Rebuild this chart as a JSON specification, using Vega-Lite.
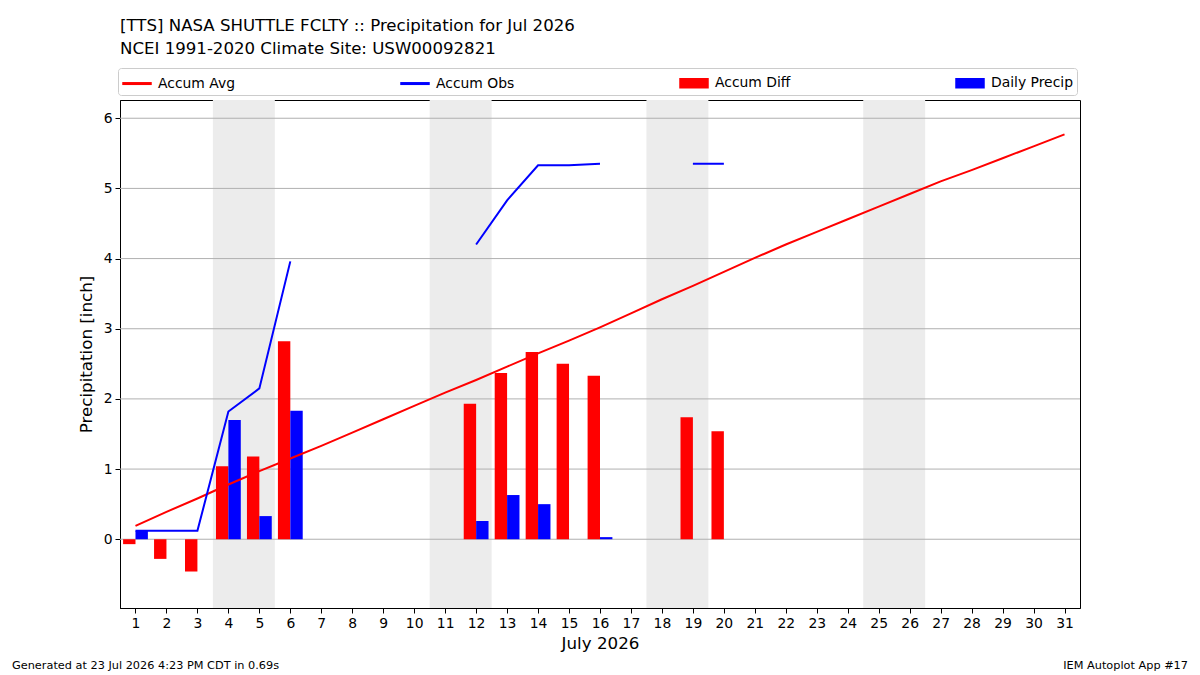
{
  "$schema": "https://vega.github.io/schema/vega-lite/v6.json",
  "width": 960,
  "height": 508,
  "autosize": "none",
  "padding": {"left": 120, "top": 100, "right": 120, "bottom": 67},
  "background": "white",
  "title": {
    "text": ["[TTS] NASA SHUTTLE FCLTY :: Precipitation for Jul 2026", "NCEI 1991-2020 Climate Site: USW00092821"],
    "anchor": "start",
    "frame": "group",
    "font": "DejaVu Sans",
    "fontSize": 16.6,
    "fontWeight": "normal",
    "color": "black",
    "lineHeight": 23,
    "offset": 10
  },
  "datasets": {
    "weekends": [
      {"start": 3.5, "end": 5.5},
      {"start": 10.5, "end": 12.5},
      {"start": 17.5, "end": 19.5},
      {"start": 24.5, "end": 26.5}
    ],
    "grid": [{"v": 0}, {"v": 1}, {"v": 2}, {"v": 3}, {"v": 4}, {"v": 5}, {"v": 6}],
    "daily": [
      {"day": 1, "avg": 0.19, "obs": 0.12, "diff": -0.07, "precip": 0.12},
      {"day": 2, "avg": 0.39, "obs": 0.12, "diff": -0.28, "precip": 0.0},
      {"day": 3, "avg": 0.58, "obs": 0.12, "diff": -0.46, "precip": 0.0},
      {"day": 4, "avg": 0.78, "obs": 1.82, "diff": 1.04, "precip": 1.70},
      {"day": 5, "avg": 0.97, "obs": 2.15, "diff": 1.18, "precip": 0.33},
      {"day": 6, "avg": 1.15, "obs": 3.96, "diff": 2.82, "precip": 1.83},
      {"day": 7, "avg": 1.33, "obs": null, "diff": null, "precip": null},
      {"day": 8, "avg": 1.52, "obs": null, "diff": null, "precip": null},
      {"day": 9, "avg": 1.71, "obs": null, "diff": null, "precip": null},
      {"day": 10, "avg": 1.90, "obs": null, "diff": null, "precip": null},
      {"day": 11, "avg": 2.09, "obs": null, "diff": null, "precip": null},
      {"day": 12, "avg": 2.27, "obs": 4.20, "diff": 1.93, "precip": 0.26},
      {"day": 13, "avg": 2.46, "obs": 4.83, "diff": 2.37, "precip": 0.63},
      {"day": 14, "avg": 2.65, "obs": 5.33, "diff": 2.67, "precip": 0.50},
      {"day": 15, "avg": 2.83, "obs": 5.33, "diff": 2.50, "precip": 0.0},
      {"day": 16, "avg": 3.02, "obs": 5.35, "diff": 2.33, "precip": 0.03},
      {"day": 17, "avg": 3.22, "obs": null, "diff": null, "precip": null},
      {"day": 18, "avg": 3.42, "obs": null, "diff": null, "precip": null},
      {"day": 19, "avg": 3.61, "obs": 5.35, "diff": 1.74, "precip": null},
      {"day": 20, "avg": 3.81, "obs": 5.35, "diff": 1.54, "precip": null},
      {"day": 21, "avg": 4.01, "obs": null, "diff": null, "precip": null},
      {"day": 22, "avg": 4.20, "obs": null, "diff": null, "precip": null},
      {"day": 23, "avg": 4.38, "obs": null, "diff": null, "precip": null},
      {"day": 24, "avg": 4.56, "obs": null, "diff": null, "precip": null},
      {"day": 25, "avg": 4.74, "obs": null, "diff": null, "precip": null},
      {"day": 26, "avg": 4.92, "obs": null, "diff": null, "precip": null},
      {"day": 27, "avg": 5.10, "obs": null, "diff": null, "precip": null},
      {"day": 28, "avg": 5.26, "obs": null, "diff": null, "precip": null},
      {"day": 29, "avg": 5.43, "obs": null, "diff": null, "precip": null},
      {"day": 30, "avg": 5.60, "obs": null, "diff": null, "precip": null},
      {"day": 31, "avg": 5.77, "obs": null, "diff": null, "precip": null}
    ],
    "footer": [
      {"text": "Generated at 23 Jul 2026 4:23 PM CDT in 0.69s", "side": "left"},
      {"text": "IEM Autoplot App #17", "side": "right"}
    ]
  },
  "layer": [
    {
      "data": {"name": "weekends"},
      "mark": {"type": "rect", "color": "#ececec"},
      "encoding": {
        "x": {"field": "start", "type": "quantitative", "title": "July 2026", "scale": {"domain": [0.5, 31.5], "nice": false, "zero": false, "padding": 0}, "axis": {"values": [1,2,3,4,5,6,7,8,9,10,11,12,13,14,15,16,17,18,19,20,21,22,23,24,25,26,27,28,29,30,31], "labelOverlap": false, "labelFlush": false, "format": "d"}},
        "x2": {"field": "end"}
      }
    },
    {
      "data": {"name": "grid"},
      "mark": {"type": "rule", "color": "#b0b0b0", "strokeWidth": 1},
      "encoding": {
        "y": {"field": "v", "type": "quantitative", "title": "Precipitation [inch]", "scale": {"domain": [-0.98, 6.26], "nice": false, "zero": false, "padding": 0}, "axis": {"values": [0,1,2,3,4,5,6], "format": "d", "labelOverlap": false}}
      }
    },
    {
      "data": {"name": "daily"},
      "mark": {"type": "bar", "width": 12.4, "xOffset": -6.2},
      "encoding": {
        "x": {"field": "day", "type": "quantitative", "title": "July 2026", "scale": {"domain": [0.5, 31.5], "nice": false, "zero": false, "padding": 0}, "axis": {"values": [1,2,3,4,5,6,7,8,9,10,11,12,13,14,15,16,17,18,19,20,21,22,23,24,25,26,27,28,29,30,31], "labelOverlap": false, "labelFlush": false, "format": "d"}},
        "y": {"field": "diff", "type": "quantitative", "title": "Precipitation [inch]", "scale": {"domain": [-0.98, 6.26], "nice": false, "zero": false, "padding": 0}, "axis": {"values": [0,1,2,3,4,5,6], "format": "d", "labelOverlap": false}},
        "y2": {"datum": 0},
        "color": {
          "datum": "Accum Diff",
          "scale": {"domain": ["Accum Avg", "Accum Obs", "Accum Diff", "Daily Precip"], "range": ["#ff0000", "#0000ff", "#ff0000", "#0000ff"]},
          "legend": {
            "orient": "none",
            "legendX": -2,
            "legendY": -32,
            "direction": "horizontal",
            "columns": 4,
            "columnPadding": 162,
            "title": null,
            "labelFont": "DejaVu Sans",
            "labelFontSize": 13.9,
            "labelColor": "black",
            "labelOffset": 10,
            "symbolSize": 400,
            "symbolOffset": 4,
            "symbolType": "M-1.4,-0.45H1.4V0.45H-1.4Z",
            "strokeColor": "#cccccc",
            "fillColor": "white",
            "cornerRadius": 3,
            "padding": 4,
            "encode": {
              "symbols": {
                "update": {
                  "shape": {"signal": "indexof(['Accum Avg','Accum Obs'], datum.value) >= 0 ? 'M-1.4,-0.075H1.4V0.075H-1.4Z' : 'M-1.4,-0.45H1.4V0.45H-1.4Z'"},
                  "fill": {"signal": "scale('color', datum.value)"},
                  "stroke": {"value": "transparent"},
                  "opacity": {"value": 1},
                  "fillOpacity": {"value": 1}
                }
              }
            }
          }
        }
      }
    },
    {
      "data": {"name": "daily"},
      "mark": {"type": "bar", "width": 12.4, "xOffset": 6.2},
      "encoding": {
        "x": {"field": "day", "type": "quantitative", "title": "July 2026", "scale": {"domain": [0.5, 31.5], "nice": false, "zero": false, "padding": 0}, "axis": {"values": [1,2,3,4,5,6,7,8,9,10,11,12,13,14,15,16,17,18,19,20,21,22,23,24,25,26,27,28,29,30,31], "labelOverlap": false, "labelFlush": false, "format": "d"}},
        "y": {"field": "precip", "type": "quantitative", "title": "Precipitation [inch]", "scale": {"domain": [-0.98, 6.26], "nice": false, "zero": false, "padding": 0}, "axis": {"values": [0,1,2,3,4,5,6], "format": "d", "labelOverlap": false}},
        "y2": {"datum": 0},
        "color": {"datum": "Daily Precip"}
      }
    },
    {
      "data": {"name": "daily"},
      "mark": {"type": "line", "strokeWidth": 2},
      "encoding": {
        "x": {"field": "day", "type": "quantitative", "title": "July 2026", "scale": {"domain": [0.5, 31.5], "nice": false, "zero": false, "padding": 0}, "axis": {"values": [1,2,3,4,5,6,7,8,9,10,11,12,13,14,15,16,17,18,19,20,21,22,23,24,25,26,27,28,29,30,31], "labelOverlap": false, "labelFlush": false, "format": "d"}},
        "y": {"field": "avg", "type": "quantitative", "title": "Precipitation [inch]", "scale": {"domain": [-0.98, 6.26], "nice": false, "zero": false, "padding": 0}, "axis": {"values": [0,1,2,3,4,5,6], "format": "d", "labelOverlap": false}},
        "color": {"datum": "Accum Avg"}
      }
    },
    {
      "data": {"name": "daily"},
      "mark": {"type": "line", "strokeWidth": 2, "invalid": "break-paths-filter-domains"},
      "encoding": {
        "x": {"field": "day", "type": "quantitative", "title": "July 2026", "scale": {"domain": [0.5, 31.5], "nice": false, "zero": false, "padding": 0}, "axis": {"values": [1,2,3,4,5,6,7,8,9,10,11,12,13,14,15,16,17,18,19,20,21,22,23,24,25,26,27,28,29,30,31], "labelOverlap": false, "labelFlush": false, "format": "d"}},
        "y": {"field": "obs", "type": "quantitative", "title": "Precipitation [inch]", "scale": {"domain": [-0.98, 6.26], "nice": false, "zero": false, "padding": 0}, "axis": {"values": [0,1,2,3,4,5,6], "format": "d", "labelOverlap": false}},
        "color": {"datum": "Accum Obs"}
      }
    },
    {
      "data": {"name": "footer"},
      "transform": [{"filter": "datum.side == 'left'"}],
      "mark": {"type": "text", "align": "left", "baseline": "alphabetic", "font": "DejaVu Sans", "fontSize": 11.3, "color": "black"},
      "encoding": {
        "text": {"field": "text"},
        "x": {"value": -108},
        "y": {"value": 569}
      }
    },
    {
      "data": {"name": "footer"},
      "transform": [{"filter": "datum.side == 'right'"}],
      "mark": {"type": "text", "align": "right", "baseline": "alphabetic", "font": "DejaVu Sans", "fontSize": 11.3, "color": "black"},
      "encoding": {
        "text": {"field": "text"},
        "x": {"value": 1068},
        "y": {"value": 569}
      }
    }
  ],
  "config": {
    "font": "DejaVu Sans",
    "view": {"stroke": "black", "strokeWidth": 1},
    "axis": {
      "labelFont": "DejaVu Sans",
      "titleFont": "DejaVu Sans",
      "labelFontSize": 13.9,
      "labelColor": "black",
      "titleFontSize": 16.7,
      "titleFontWeight": "normal",
      "titleColor": "black",
      "tickColor": "black",
      "domainColor": "black",
      "tickSize": 5,
      "grid": false,
      "labelPadding": 3
    },
    "axisX": {"labelAngle": 0, "titlePadding": 6},
    "axisY": {"titlePadding": 8}
  }
}
